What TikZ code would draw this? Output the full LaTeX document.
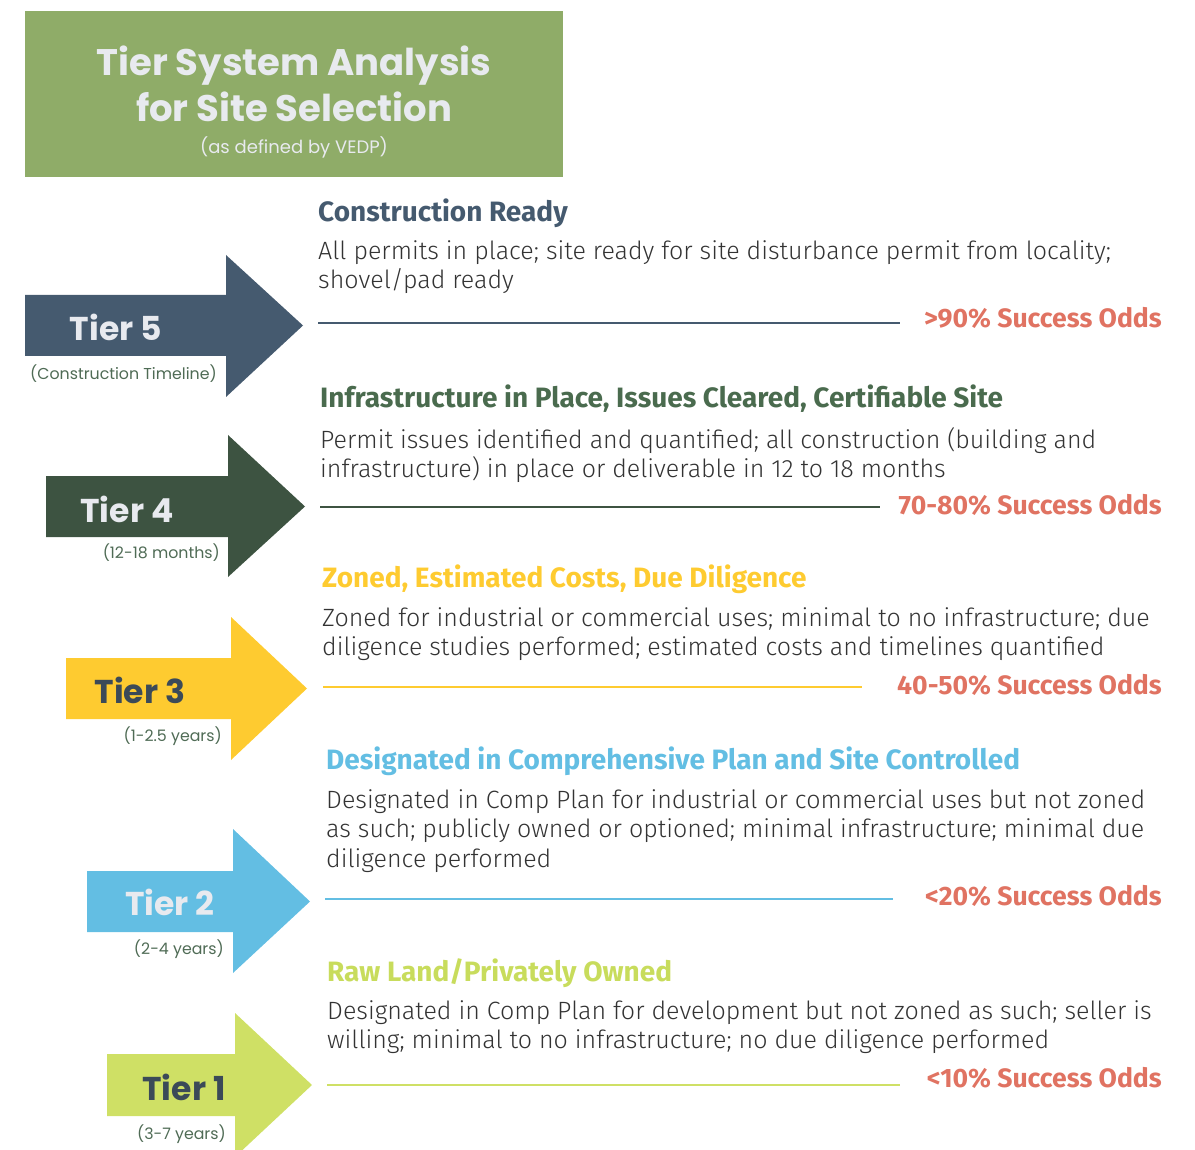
\documentclass[tikz,border=0pt]{standalone}
\usepackage{fontspec}
\setmainfont{Poppins}
\newfontfamily\popfont{Poppins}
\newfontfamily\firafont{Fira Sans}
\newfontfamily\lightfont{Fira Sans Light}
\definecolor{titlebg}{HTML}{8FAC68}
\definecolor{titletext}{HTML}{E8EAEF}
\definecolor{tfive}{HTML}{455A6F}
\definecolor{tfour}{HTML}{3D5341}
\definecolor{tfourhead}{HTML}{4A6B4E}
\definecolor{tthree}{HTML}{FECB30}
\definecolor{ttwo}{HTML}{63BEE3}
\definecolor{tone}{HTML}{CFE065}
\definecolor{toneheadc}{HTML}{C8DC5C}
\definecolor{darkslate}{HTML}{3B4A58}
\definecolor{timegreen}{HTML}{4F6B55}
\definecolor{bodygray}{HTML}{333333}
\definecolor{oddsred}{HTML}{E07362}
\tikzset{
  titlefont/.style={font=\popfont\bfseries\fontsize{37}{40}\selectfont, text=titletext, inner sep=0},
  subtitlefont/.style={font=\popfont\fontsize{18}{21}\selectfont, text=titletext, inner sep=0},
  tierlabel/.style={font=\popfont\bfseries\fontsize{33}{36}\selectfont, inner sep=0},
  timeline/.style={font=\popfont\fontsize{15.8}{18}\selectfont, text=timegreen, anchor=mid east, inner sep=0},
  heading/.style={font=\firafont\bfseries\fontsize{28}{32}\selectfont, anchor=mid west, inner sep=0},
  bodytext/.style={font=\lightfont\fontsize{25}{29.5}\selectfont, text=bodygray, anchor=north west, inner sep=0, align=left},
  odds/.style={font=\firafont\bfseries\fontsize{26.6}{30}\selectfont, text=oddsred, anchor=mid east, inner sep=0},
  rulebar/.style={line width=2pt}
}
\begin{document}
\begin{tikzpicture}[x=1pt,y=-1pt]
\useasboundingbox (0,0) rectangle (1195,1150);
% title box
\fill[titlebg] (25,11) rectangle (563,177);
\node[titlefont] (title1) at (294,66) {Tier System Analysis};
\node[titlefont] (title2) at (294,107) {for Site Selection};
\node[subtitlefont] (subtitle) at (294,147) {(as defined by VEDP)};

% arrows
\fill[tfive] (25,295) -- (226,295) -- (226,255) -- (303,325.5) -- (226,397) -- (226,356) -- (25,356) -- cycle;
\fill[tfour] (46,476) -- (228,476) -- (228,435) -- (305,506.5) -- (228,577) -- (228,537) -- (46,537) -- cycle;
\fill[tthree] (66,658) -- (231,658) -- (231,617) -- (307,688.5) -- (231,760) -- (231,719) -- (66,719) -- cycle;
\fill[ttwo] (87,871) -- (233,871) -- (233,829) -- (310,901.5) -- (233,973) -- (233,932) -- (87,932) -- cycle;
\fill[tone] (107,1054) -- (235,1054) -- (235,1013) -- (312,1085) -- (235,1157) -- (235,1116) -- (107,1116) -- cycle;

% tier labels
\node[tierlabel, text=titletext] (t5) at (116,327) {Tier 5};
\node[tierlabel, text=titletext] (t4) at (127,509) {Tier 4};
\node[tierlabel, text=darkslate] (t3) at (140,690) {Tier 3};
\node[tierlabel, text=titletext] (t2) at (170,902) {Tier 2};
\node[tierlabel, text=darkslate] (t1) at (184,1087) {Tier 1};

\node[timeline] (tl5) at (217,377) {(Construction Timeline)};
\node[timeline] (tl4) at (220,556) {(12-18 months)};
\node[timeline] (tl3) at (222,739) {(1-2.5 years)};
\node[timeline] (tl2) at (224,952) {(2-4 years)};
\node[timeline] (tl1) at (226,1137) {(3-7 years)};

% Tier 5 text
\node[heading, text=tfive] (h5) at (318,219) {Construction Ready};
\node[bodytext] (b5) at (318,240) {All permits in place; site ready for site disturbance permit from locality;\\shovel/pad ready};
\coordinate (r5a) at (318,323); \coordinate (r5b) at (900,323);
\draw[rulebar, tfive] (r5a) -- (r5b);
\node[odds] (o5) at (1162,325) {>90\% Success Odds};

% Tier 4 text
\node[heading, text=tfourhead] (h4) at (320,405) {Infrastructure in Place, Issues Cleared, Certifiable Site};
\node[bodytext] (b4) at (320,427) {Permit issues identified and quantified; all construction (building and\\infrastructure) in place or deliverable in 12 to 18 months};
\coordinate (r4a) at (320,507); \coordinate (r4b) at (880,507);
\draw[rulebar, tfour] (r4a) -- (r4b);
\node[odds] (o4) at (1162,512) {70-80\% Success Odds};

% Tier 3 text
\node[heading, text=tthree] (h3) at (322,585) {Zoned, Estimated Costs, Due Diligence};
\node[bodytext] (b3) at (322,607) {Zoned for industrial or commercial uses; minimal to no infrastructure; due\\diligence studies performed; estimated costs and timelines quantified};
\coordinate (r3a) at (323,687); \coordinate (r3b) at (862,687);
\draw[rulebar, tthree] (r3a) -- (r3b);
\node[odds] (o3) at (1162,692) {40-50\% Success Odds};

% Tier 2 text
\node[heading, text=ttwo] (h2) at (326,767) {Designated in Comprehensive Plan and Site Controlled};
\node[bodytext] (b2) at (326,789) {Designated in Comp Plan for industrial or commercial uses but not zoned\\as such; publicly owned or optioned; minimal infrastructure; minimal due\\diligence performed};
\coordinate (r2a) at (325,899); \coordinate (r2b) at (893,899);
\draw[rulebar, ttwo] (r2a) -- (r2b);
\node[odds] (o2) at (1162,903) {<20\% Success Odds};

% Tier 1 text
\node[heading, text=toneheadc] (h1) at (327,979) {Raw Land/Privately Owned};
\node[bodytext] (b1) at (327,1000) {Designated in Comp Plan for development but not zoned as such; seller is\\willing; minimal to no infrastructure; no due diligence performed};
\coordinate (r1a) at (327,1085); \coordinate (r1b) at (900,1085);
\draw[rulebar, tone] (r1a) -- (r1b);
\node[odds] (o1) at (1162,1085) {<10\% Success Odds};
\end{tikzpicture}
\end{document}
